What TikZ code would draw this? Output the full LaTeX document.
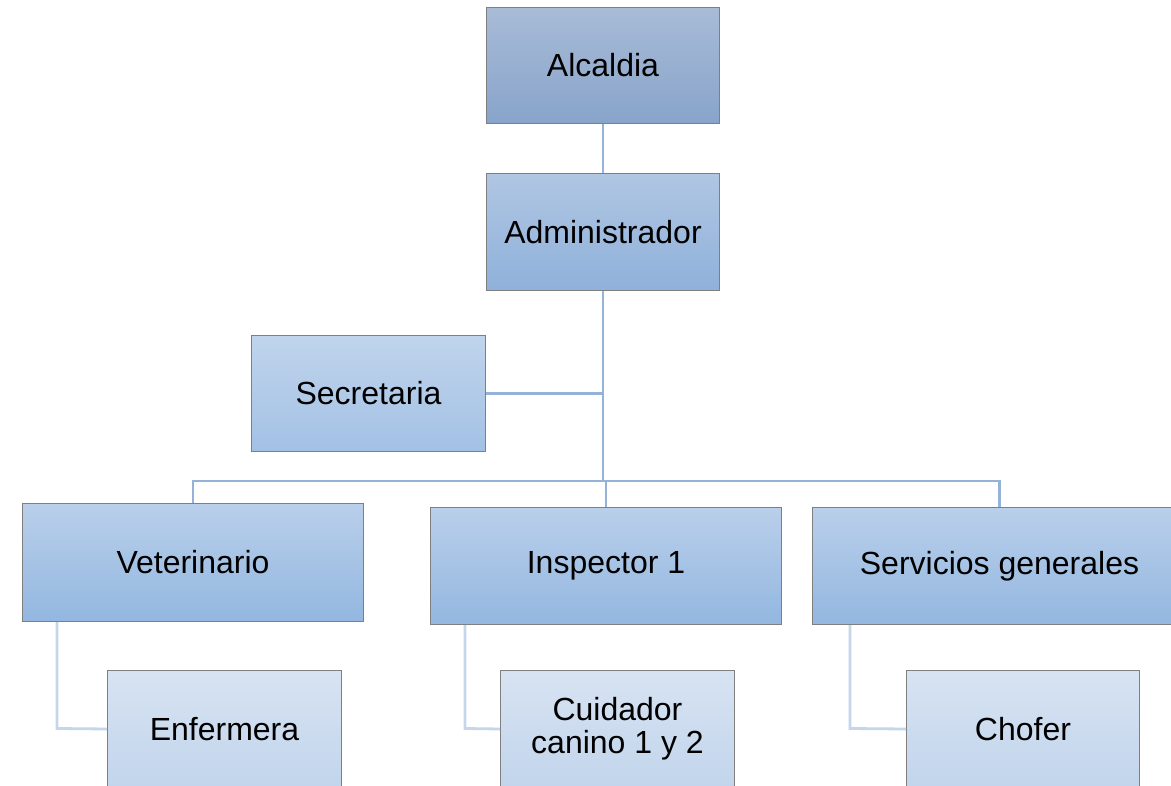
\documentclass[tikz,border=0pt]{standalone}
\usepackage{fontspec}
\setmainfont{Liberation Sans}
\usetikzlibrary{calc}
\definecolor{boxline}{HTML}{7F7F7F}
\definecolor{mainln}{HTML}{95B3D7}
\definecolor{childln}{HTML}{C5D6EC}
\definecolor{aT}{HTML}{A8BBD7}\definecolor{aB}{HTML}{88A4CA}
\definecolor{bT}{HTML}{B0C6E3}\definecolor{bB}{HTML}{8FB1DA}
\definecolor{cT}{HTML}{C0D4EC}\definecolor{cB}{HTML}{A3C1E5}
\definecolor{dT}{HTML}{B9CFEA}\definecolor{dB}{HTML}{93B7E0}
\definecolor{eT}{HTML}{D7E3F2}\definecolor{eB}{HTML}{C2D5EC}
\tikzset{
  box/.style={draw=boxline, line width=1pt, rectangle, inner sep=0pt, anchor=north west,
    font=\fontsize{32}{33}\selectfont, align=center},
  lvlA/.style={box, top color=aT, bottom color=aB},
  lvlB/.style={box, top color=bT, bottom color=bB},
  lvlC/.style={box, top color=cT, bottom color=cB},
  lvlD/.style={box, top color=dT, bottom color=dB},
  lvlE/.style={box, top color=eT, bottom color=eB},
  mainconn/.style={draw=mainln, line width=2.8pt},
  childconn/.style={draw=childln, line width=2.8pt},
}
\begin{document}
\begin{tikzpicture}[x=1pt,y=-1pt]
\clip (0,0) rectangle (1171,786);
\fill[white] (0,0) rectangle (1171,786);
\coordinate (bus) at (603,481);
\coordinate (vetc) at (57,728.5);
\coordinate (inspc) at (465,728.5);
\coordinate (servc) at (850,728.5);
\node[lvlA, minimum width=233pt, minimum height=116pt] (alc) at (486,7) {Alcaldia};
\node[lvlB, minimum width=233pt, minimum height=117pt] (adm) at (486,173) {Administrador};
\node[lvlC, minimum width=234pt, minimum height=116pt] (sec) at (251,335) {Secretaria};
\node[lvlD, minimum width=341pt, minimum height=118pt] (vet) at (22,503) {Veterinario};
\node[lvlD, minimum width=351pt, minimum height=117pt] (insp) at (430,507) {Inspector 1};
\node[lvlD, minimum width=374pt, minimum height=117pt] (serv) at (812,507) {Servicios generales};
\node[lvlE, minimum width=234pt, minimum height=117pt] (enf) at (107,670) {Enfermera};
\node[lvlE, minimum width=234pt, minimum height=117pt] (cuid) at (500,670) {Cuidador\\canino 1 y 2};
\node[lvlE, minimum width=233pt, minimum height=117pt] (chof) at (906,670) {Chofer};
\draw[mainconn] (alc.south) -- (adm.north);
\draw[mainconn] (adm.south) -- (bus);
\draw[mainconn] (sec.east) -- (sec.east -| bus);
\draw[mainconn] (bus) -| (vet.north);
\draw[mainconn] (bus) -| (serv.north);
\draw[mainconn] (bus) -| (insp.north);
\draw[childconn] (vet.south -| vetc) -- (vetc) -- (enf.west);
\draw[childconn] (insp.south -| inspc) -- (inspc) -- (cuid.west);
\draw[childconn] (serv.south -| servc) -- (servc) -- (chof.west);
\end{tikzpicture}
\end{document}
